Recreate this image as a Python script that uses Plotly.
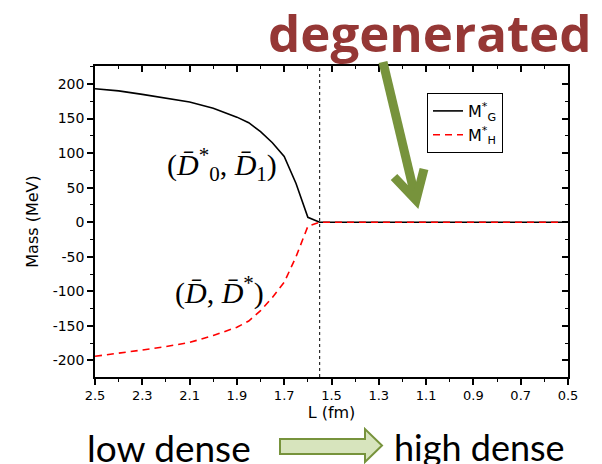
import plotly.graph_objects as go

# ---- data ----
L_fm = [2.5, 2.4, 2.3, 2.2, 2.1, 2.0, 1.9, 1.85, 1.8, 1.75, 1.7, 1.65, 1.6, 1.55,
        1.5, 1.3, 1.1, 0.9, 0.7, 0.5]
M_G = [193, 190, 185, 180, 174, 165, 152, 144, 131, 115, 95, 56, 7, 0,
       0, 0, 0, 0, 0, 0]
M_H = [-194, -190, -185, -180, -174, -164, -152, -143, -128, -109, -87, -50, -6, 0,
       0, 0, 0, 0, 0, 0]
transition_L = 1.55
x_ticks = [2.5, 2.3, 2.1, 1.9, 1.7, 1.5, 1.3, 1.1, 0.9, 0.7, 0.5]
y_ticks = [200, 150, 100, 50, 0, -50, -100, -150, -200]
x_ticklabels = ["2.5", "2.3", "2.1", "1.9", "1.7", "1.5", "1.3", "1.1", "0.9", "0.7", "0.5"]
y_ticklabels = ["200", "150", "100", "50", "0", "-50", "-100", "-150", "-200"]

OFF = 8  # default page body margin
W, H = 602 - OFF, 464 - OFF
PL, PR, PT, PB = 95, 568, 66, 377  # plot area in window pixels


def px(x):
    return (x - PL) / (PR - PL)


def py(y):
    return (PB - y) / (PB - PT)


fig = go.Figure()
fig.add_trace(go.Scatter(x=L_fm, y=M_G, mode="lines",
                         line=dict(color="black", width=1.6),
                         name="M<sup>*</sup><sub>G</sub>"))
fig.add_trace(go.Scatter(x=L_fm, y=M_H, mode="lines",
                         line=dict(color="#ff0000", width=1.6, dash="7px,5px"),
                         name="M<sup>*</sup><sub>H</sub>"))
# dummy trace for mirrored axes
fig.add_trace(go.Scatter(x=[None], y=[None], xaxis="x2", yaxis="y2",
                         showlegend=False, hoverinfo="skip"))

xr = [2.5, 0.5]
yr = [-224, 226]
common = dict(showline=True, linecolor="black", linewidth=1.5, showgrid=False,
              zeroline=False)
fig.update_layout(
    width=W, height=H,
    margin=dict(l=PL - OFF, r=602 - PR, t=PT - OFF, b=464 - PB),
    paper_bgcolor="white", plot_bgcolor="white",
    xaxis=dict(range=xr, tickvals=x_ticks, ticktext=x_ticklabels,
               ticks="outside", ticklen=6, tickwidth=1.5, tickcolor="black",
               minor=dict(dtick=0.1, tick0=0.5, ticks="outside", ticklen=3,
                          tickwidth=1.2, tickcolor="black"),
               tickfont=dict(family="DejaVu Sans", size=13, color="black"),
               title=dict(text="L (fm)", font=dict(family="DejaVu Sans", size=16,
                                                   color="black"), standoff=4),
               **common),
    yaxis=dict(range=yr, tickvals=y_ticks, ticktext=y_ticklabels,
               ticks="outside", ticklen=6, tickwidth=1.5, tickcolor="black",
               minor=dict(dtick=25, tick0=0, ticks="outside", ticklen=3,
                          tickwidth=1.2, tickcolor="black"),
               tickfont=dict(family="DejaVu Sans", size=14, color="black"),
               title=dict(text="Mass (MeV)", font=dict(family="DejaVu Sans", size=16,
                                                       color="black"), standoff=10),
               **common),
    xaxis2=dict(range=xr, overlaying="x", side="top", showticklabels=False,
                tickvals=x_ticks, ticks="inside", ticklen=6, tickwidth=1.5,
                tickcolor="black",
                minor=dict(dtick=0.1, tick0=0.5, ticks="inside", ticklen=3,
                           tickwidth=1.2, tickcolor="black"),
                **common),
    yaxis2=dict(range=yr, overlaying="y", side="right", showticklabels=False,
                tickvals=y_ticks, ticks="inside", ticklen=6, tickwidth=1.5,
                tickcolor="black",
                minor=dict(dtick=25, tick0=0, ticks="inside", ticklen=3,
                           tickwidth=1.2, tickcolor="black"),
                **common),
    legend=dict(x=px(427), y=py(93), xanchor="left", yanchor="top",
                bgcolor="white", bordercolor="black", borderwidth=1,
                font=dict(family="DejaVu Sans", size=16, color="black"),
                tracegroupgap=0),
    showlegend=True,
)

fig.add_vline(x=transition_L, line=dict(color="black", width=1, dash="dot"))

ann_common = dict(xref="paper", yref="paper", showarrow=False)
fig.add_annotation(x=px(430), y=py(32), text="<b>degenerated</b>",
                   font=dict(family="Open Sans", size=51, color="#953735"),
                   xanchor="center", yanchor="middle", **ann_common)
fig.add_annotation(x=px(169), y=py(447), text="low dense",
                   font=dict(family="Lato", size=37, color="black"),
                   xanchor="center", yanchor="middle", **ann_common)
fig.add_annotation(x=px(479), y=py(447), text="high dense",
                   font=dict(family="Lato", size=36, color="black"),
                   xanchor="center", yanchor="middle", **ann_common)
fig.add_annotation(x=px(222), y=py(164),
                   text="(<i>D\u0304</i><sup>*</sup><sub>0</sub>, <i>D\u0304</i><sub>1</sub>)",
                   font=dict(family="Liberation Serif", size=30, color="black"),
                   xanchor="center", yanchor="middle", **ann_common)
fig.add_annotation(x=px(219), y=py(290),
                   text="(<i>D\u0304</i>, <i>D\u0304</i><sup>*</sup>)",
                   font=dict(family="Liberation Serif", size=30, color="black"),
                   xanchor="center", yanchor="middle", **ann_common)


def path(points, close=False):
    s = "M " + " L ".join(f"{px(x):.5f},{py(y):.5f}" for x, y in points)
    return s + (" Z" if close else "")


# big green arrow
fig.add_shape(type="path", xref="paper", yref="paper",
              path=path([(383, 62), (415, 196)]),
              line=dict(color="#77933C", width=9))
fig.add_shape(type="path", xref="paper", yref="paper",
              path=path([(394, 177), (416, 200), (424, 169)]),
              line=dict(color="#77933C", width=9))
# block arrow
fig.add_shape(type="path", xref="paper", yref="paper",
              path=path([(280, 439), (365, 439), (365, 429), (382, 445.5),
                         (365, 462), (365, 454), (280, 454)], close=True),
              fillcolor="#D7E4BD", line=dict(color="#77933C", width=2))

fig.write_html("out.html")
